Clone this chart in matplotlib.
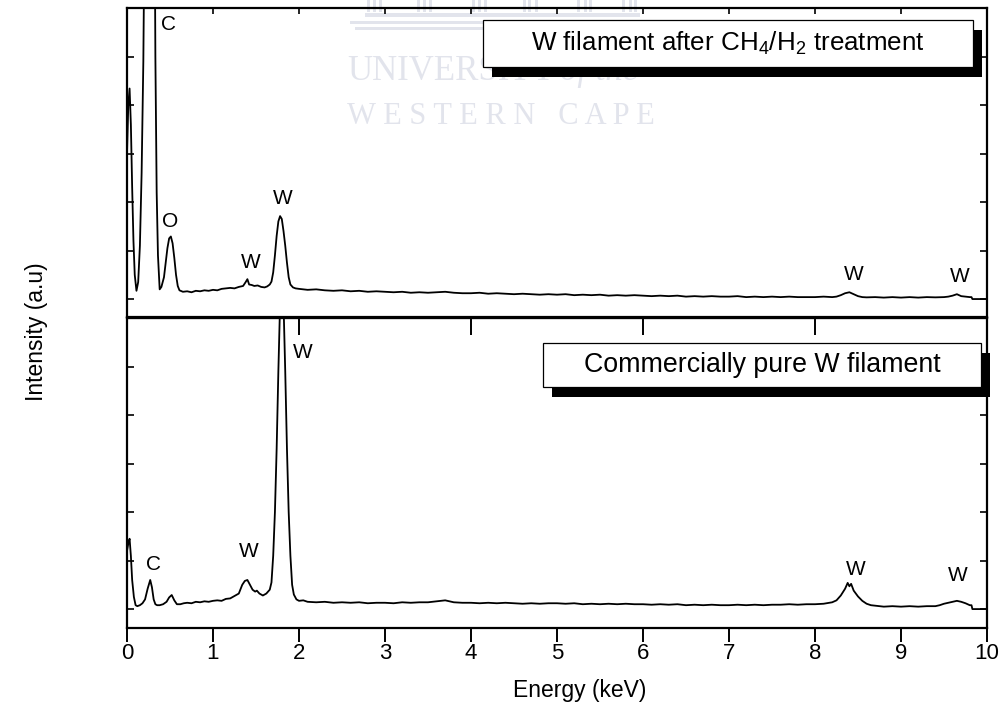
import matplotlib
matplotlib.use("Agg")
import matplotlib.pyplot as plt
from matplotlib.patches import Rectangle

plt.rcParams['font.family'] = ['Liberation Sans', 'DejaVu Sans']
plt.rcParams['mathtext.fontset'] = 'custom'
plt.rcParams['mathtext.rm'] = 'Liberation Sans'
plt.rcParams['mathtext.it'] = 'Liberation Sans:italic'

# ---- EDS spectra (energy in keV, intensity in arbitrary units) ----
treated_spectrum = [
    (0.00, 3.0), (0.015, 4.0), (0.03, 4.34), (0.045, 3.6), (0.06, 2.3), (0.075, 1.2),
    (0.09, 0.5), (0.11, 0.17), (0.13, 0.35), (0.15, 1.1), (0.17, 2.6), (0.19, 4.9),
    (0.21, 9.0), (0.24, 18.0), (0.27, 22.0), (0.30, 17.0), (0.32, 8.5), (0.33, 5.0),
    (0.345, 2.2), (0.36, 0.9), (0.38, 0.2), (0.40, 0.25), (0.43, 0.45), (0.45, 0.75),
    (0.47, 1.05), (0.49, 1.25), (0.51, 1.29), (0.53, 1.15), (0.55, 0.85), (0.57, 0.5),
    (0.59, 0.27), (0.61, 0.18), (0.65, 0.15), (0.70, 0.16), (0.75, 0.14), (0.80, 0.17),
    (0.85, 0.16), (0.90, 0.18), (0.95, 0.17), (1.00, 0.19), (1.05, 0.18), (1.10, 0.21),
    (1.15, 0.22), (1.20, 0.23), (1.25, 0.22), (1.30, 0.25), (1.35, 0.27), (1.38, 0.35),
    (1.40, 0.41), (1.42, 0.30), (1.45, 0.29), (1.48, 0.27), (1.52, 0.28), (1.56, 0.25),
    (1.60, 0.24), (1.63, 0.26), (1.66, 0.30), (1.68, 0.36), (1.70, 0.55), (1.72, 0.90),
    (1.74, 1.30), (1.76, 1.60), (1.78, 1.71), (1.80, 1.65), (1.82, 1.40), (1.84, 1.10),
    (1.86, 0.75), (1.88, 0.45), (1.90, 0.30), (1.93, 0.24), (1.96, 0.22), (2.00, 0.21),
    (2.10, 0.19), (2.20, 0.20), (2.30, 0.18), (2.40, 0.17), (2.50, 0.18), (2.60, 0.16),
    (2.70, 0.17), (2.80, 0.15), (2.90, 0.16), (3.00, 0.15), (3.10, 0.14), (3.20, 0.15),
    (3.30, 0.13), (3.40, 0.14), (3.50, 0.13), (3.60, 0.14), (3.70, 0.15), (3.80, 0.13),
    (3.90, 0.12), (4.00, 0.12), (4.10, 0.13), (4.20, 0.11), (4.30, 0.12), (4.40, 0.11),
    (4.50, 0.10), (4.60, 0.11), (4.70, 0.10), (4.80, 0.09), (4.90, 0.10), (5.00, 0.09),
    (5.10, 0.10), (5.20, 0.08), (5.30, 0.09), (5.40, 0.08), (5.50, 0.09), (5.60, 0.07),
    (5.70, 0.08), (5.80, 0.07), (5.90, 0.08), (6.00, 0.07), (6.10, 0.06), (6.20, 0.07),
    (6.30, 0.06), (6.40, 0.07), (6.50, 0.05), (6.60, 0.06), (6.70, 0.05), (6.80, 0.06),
    (6.90, 0.05), (7.00, 0.05), (7.10, 0.06), (7.20, 0.04), (7.30, 0.05), (7.40, 0.04),
    (7.50, 0.05), (7.60, 0.04), (7.70, 0.05), (7.80, 0.04), (7.90, 0.04), (8.00, 0.04),
    (8.10, 0.05), (8.20, 0.04), (8.25, 0.05), (8.30, 0.08), (8.35, 0.12), (8.40, 0.14),
    (8.45, 0.10), (8.50, 0.06), (8.55, 0.04), (8.60, 0.035), (8.70, 0.04), (8.80, 0.03),
    (8.90, 0.04), (9.00, 0.03), (9.10, 0.04), (9.20, 0.03), (9.30, 0.04), (9.40, 0.035),
    (9.50, 0.04), (9.55, 0.05), (9.60, 0.07), (9.65, 0.10), (9.70, 0.06), (9.75, 0.05),
    (9.80, 0.04), (9.82, 0.04), (9.83, 0.0), (10.00, 0.0),
]

pure_spectrum = [
    (0.00, 1.2), (0.015, 1.35), (0.03, 1.45), (0.045, 1.1), (0.06, 0.6), (0.08, 0.25),
    (0.10, 0.08), (0.12, 0.06), (0.15, 0.08), (0.18, 0.12), (0.21, 0.20), (0.24, 0.42),
    (0.27, 0.60), (0.29, 0.45), (0.31, 0.20), (0.33, 0.10), (0.35, 0.08), (0.38, 0.08),
    (0.42, 0.10), (0.46, 0.15), (0.49, 0.24), (0.52, 0.29), (0.55, 0.18), (0.58, 0.10),
    (0.62, 0.10), (0.66, 0.12), (0.70, 0.13), (0.75, 0.12), (0.80, 0.15), (0.85, 0.14),
    (0.90, 0.16), (0.95, 0.15), (1.00, 0.17), (1.05, 0.18), (1.10, 0.17), (1.15, 0.21),
    (1.20, 0.22), (1.25, 0.27), (1.30, 0.32), (1.34, 0.50), (1.37, 0.58), (1.40, 0.60),
    (1.43, 0.50), (1.46, 0.40), (1.49, 0.36), (1.51, 0.38), (1.54, 0.32), (1.58, 0.28),
    (1.62, 0.32), (1.66, 0.40), (1.68, 0.55), (1.70, 1.10), (1.72, 2.00), (1.74, 3.30),
    (1.76, 4.90), (1.78, 6.30), (1.80, 6.90), (1.82, 6.30), (1.84, 4.90), (1.86, 3.30),
    (1.88, 2.00), (1.90, 1.10), (1.92, 0.50), (1.94, 0.30), (1.97, 0.20), (2.00, 0.17),
    (2.05, 0.18), (2.10, 0.15), (2.20, 0.14), (2.30, 0.15), (2.40, 0.13), (2.50, 0.14),
    (2.60, 0.13), (2.70, 0.14), (2.80, 0.12), (2.90, 0.13), (3.00, 0.13), (3.10, 0.12),
    (3.20, 0.14), (3.30, 0.13), (3.40, 0.14), (3.50, 0.14), (3.60, 0.16), (3.70, 0.18),
    (3.80, 0.14), (3.90, 0.13), (4.00, 0.13), (4.10, 0.12), (4.20, 0.13), (4.30, 0.12),
    (4.40, 0.13), (4.50, 0.12), (4.60, 0.11), (4.70, 0.12), (4.80, 0.11), (4.90, 0.12),
    (5.00, 0.12), (5.10, 0.11), (5.20, 0.12), (5.30, 0.10), (5.40, 0.11), (5.50, 0.10),
    (5.60, 0.11), (5.70, 0.10), (5.80, 0.11), (5.90, 0.10), (6.00, 0.10), (6.10, 0.09),
    (6.20, 0.10), (6.30, 0.09), (6.40, 0.10), (6.50, 0.08), (6.60, 0.09), (6.70, 0.08),
    (6.80, 0.09), (6.90, 0.08), (7.00, 0.08), (7.10, 0.09), (7.20, 0.08), (7.30, 0.09),
    (7.40, 0.08), (7.50, 0.09), (7.60, 0.09), (7.70, 0.10), (7.80, 0.09), (7.90, 0.10),
    (8.00, 0.10), (8.10, 0.11), (8.20, 0.14), (8.25, 0.18), (8.30, 0.28), (8.35, 0.42),
    (8.38, 0.54), (8.40, 0.47), (8.42, 0.52), (8.45, 0.38), (8.50, 0.26), (8.55, 0.17),
    (8.60, 0.11), (8.65, 0.08), (8.70, 0.07), (8.80, 0.05), (8.90, 0.06), (9.00, 0.05),
    (9.10, 0.06), (9.20, 0.05), (9.30, 0.06), (9.40, 0.06), (9.45, 0.08), (9.50, 0.11),
    (9.55, 0.13), (9.60, 0.15), (9.65, 0.17), (9.70, 0.15), (9.75, 0.12), (9.80, 0.08),
    (9.82, 0.08), (9.83, 0.0), (10.00, 0.0),
]

# peak labels: (text, energy, intensity)
treated_labels = [("C", 0.48, 5.66), ("O", 0.50, 1.59), ("W", 1.44, 0.76),
                  ("W", 1.81, 2.07), ("W", 8.45, 0.51), ("W", 9.68, 0.47)]
pure_labels = [("W", 2.04, 5.28), ("C", 0.31, 0.92), ("W", 1.42, 1.18),
               ("W", 8.48, 0.82), ("W", 9.66, 0.70)]

treated_title = "W filament after CH$_4$/H$_2$ treatment"
pure_title = "Commercially pure W filament"
x_ticks = list(range(0, 11))
y_ticks = list(range(0, 7))

W, H = 1003, 723
fig = plt.figure(figsize=(W / 100, H / 100), dpi=100)


def fx(px):
    return px / W


def fy(py):
    return 1 - py / H


# faint institutional watermark behind the plot
wm_color = "#e2e4ec"
fig.text(fx(347), fy(71), "UNIVERSITY", family="Liberation Serif", fontsize=25,
         color=wm_color, ha="left", va="center", zorder=0)
fig.text(fx(560), fy(71), "of the", family="Liberation Serif", style="italic",
         fontsize=25, color=wm_color, ha="left", va="center", zorder=0)
fig.text(fx(347), fy(116), "W E S T E R N   C A P E", family="Liberation Serif",
         fontsize=22, color=wm_color, ha="left", va="center", zorder=0)
for y0, y1, x0, x1 in [(21, 24, 350, 652), (27, 30, 355, 647), (13, 17, 365, 640)]:
    fig.add_artist(Rectangle((fx(x0), fy(y1)), fx(x1) - fx(x0), fy(y0) - fy(y1),
                             transform=fig.transFigure, color=wm_color, lw=0, zorder=0))
for cx in [375, 425, 480, 530, 585, 630]:
    for dx in (-6, 0, 6):
        fig.add_artist(Rectangle((fx(cx + dx - 1.5), fy(12)), fx(3), fy(0) - fy(12),
                                 transform=fig.transFigure, color=wm_color, lw=0, zorder=0))

left, right = 127, 987
ax_top = fig.add_axes([fx(left), fy(317), fx(right) - fx(left), fy(8) - fy(317)])
ax_bot = fig.add_axes([fx(left), fy(628), fx(right) - fx(left), fy(318) - fy(628)])
for ax in (ax_top, ax_bot):
    ax.patch.set_alpha(0)

for ax, spec, labels, ylim in [(ax_top, treated_spectrum, treated_labels, (-0.37, 6.0)),
                               (ax_bot, pure_spectrum, pure_labels, (-0.39, 6.0))]:
    e = [p[0] for p in spec]
    c = [p[1] for p in spec]
    ax.plot(e, c, color="black", lw=1.3, solid_joinstyle="round")
    for txt, xe, yv in labels:
        ax.text(xe, yv, txt, ha="center", va="center", fontsize=15)
    ax.set_xlim(0, 10)
    ax.set_ylim(*ylim)
    ax.set_xticks(x_ticks)
    ax.set_yticks(y_ticks)
    ax.set_yticklabels([])
    ax.tick_params(axis="y", which="both", direction="in", left=True, right=True,
                   length=5, width=1.2)
    for s in ax.spines.values():
        s.set_linewidth(1.6)

ax_top.tick_params(axis="x", direction="in", top=True, bottom=False,
                   labelbottom=False, length=4, width=1.2)
ax_bot.tick_params(axis="x", direction="out", bottom=True, top=False, length=10,
                   width=1.4, labelsize=16, pad=1)
ax_bot.secondary_xaxis("top").tick_params(direction="in", length=12, width=1.4,
                                           labeltop=False)
ax_bot.set_xticklabels([str(t) for t in x_ticks])

fig.text(fx(580), fy(690), "Energy (keV)", ha="center", va="center", fontsize=16.5)
fig.text(fx(37), fy(332), "Intensity (a.u)", ha="center", va="center",
         rotation=90, fontsize=16.5)


def framed_label(x0, y0, x1, y1, text, size):
    # black drop shadow offset down-right, then a white framed box on top
    fig.add_artist(Rectangle((fx(x0 + 9), fy(y1 + 10)), fx(x1) - fx(x0), fy(y0) - fy(y1),
                             transform=fig.transFigure, facecolor="black",
                             edgecolor="black", lw=0, zorder=5))
    fig.add_artist(Rectangle((fx(x0), fy(y1)), fx(x1) - fx(x0), fy(y0) - fy(y1),
                             transform=fig.transFigure, facecolor="white",
                             edgecolor="black", lw=0.9, zorder=6))
    fig.text(fx((x0 + x1) / 2), fy((y0 + y1) / 2), text, ha="center", va="center",
             fontsize=size, zorder=7)


framed_label(483, 20, 973, 67, treated_title, 18.7)
framed_label(543, 343, 981, 387, pure_title, 19.3)

fig.savefig("out.png", dpi=100)
